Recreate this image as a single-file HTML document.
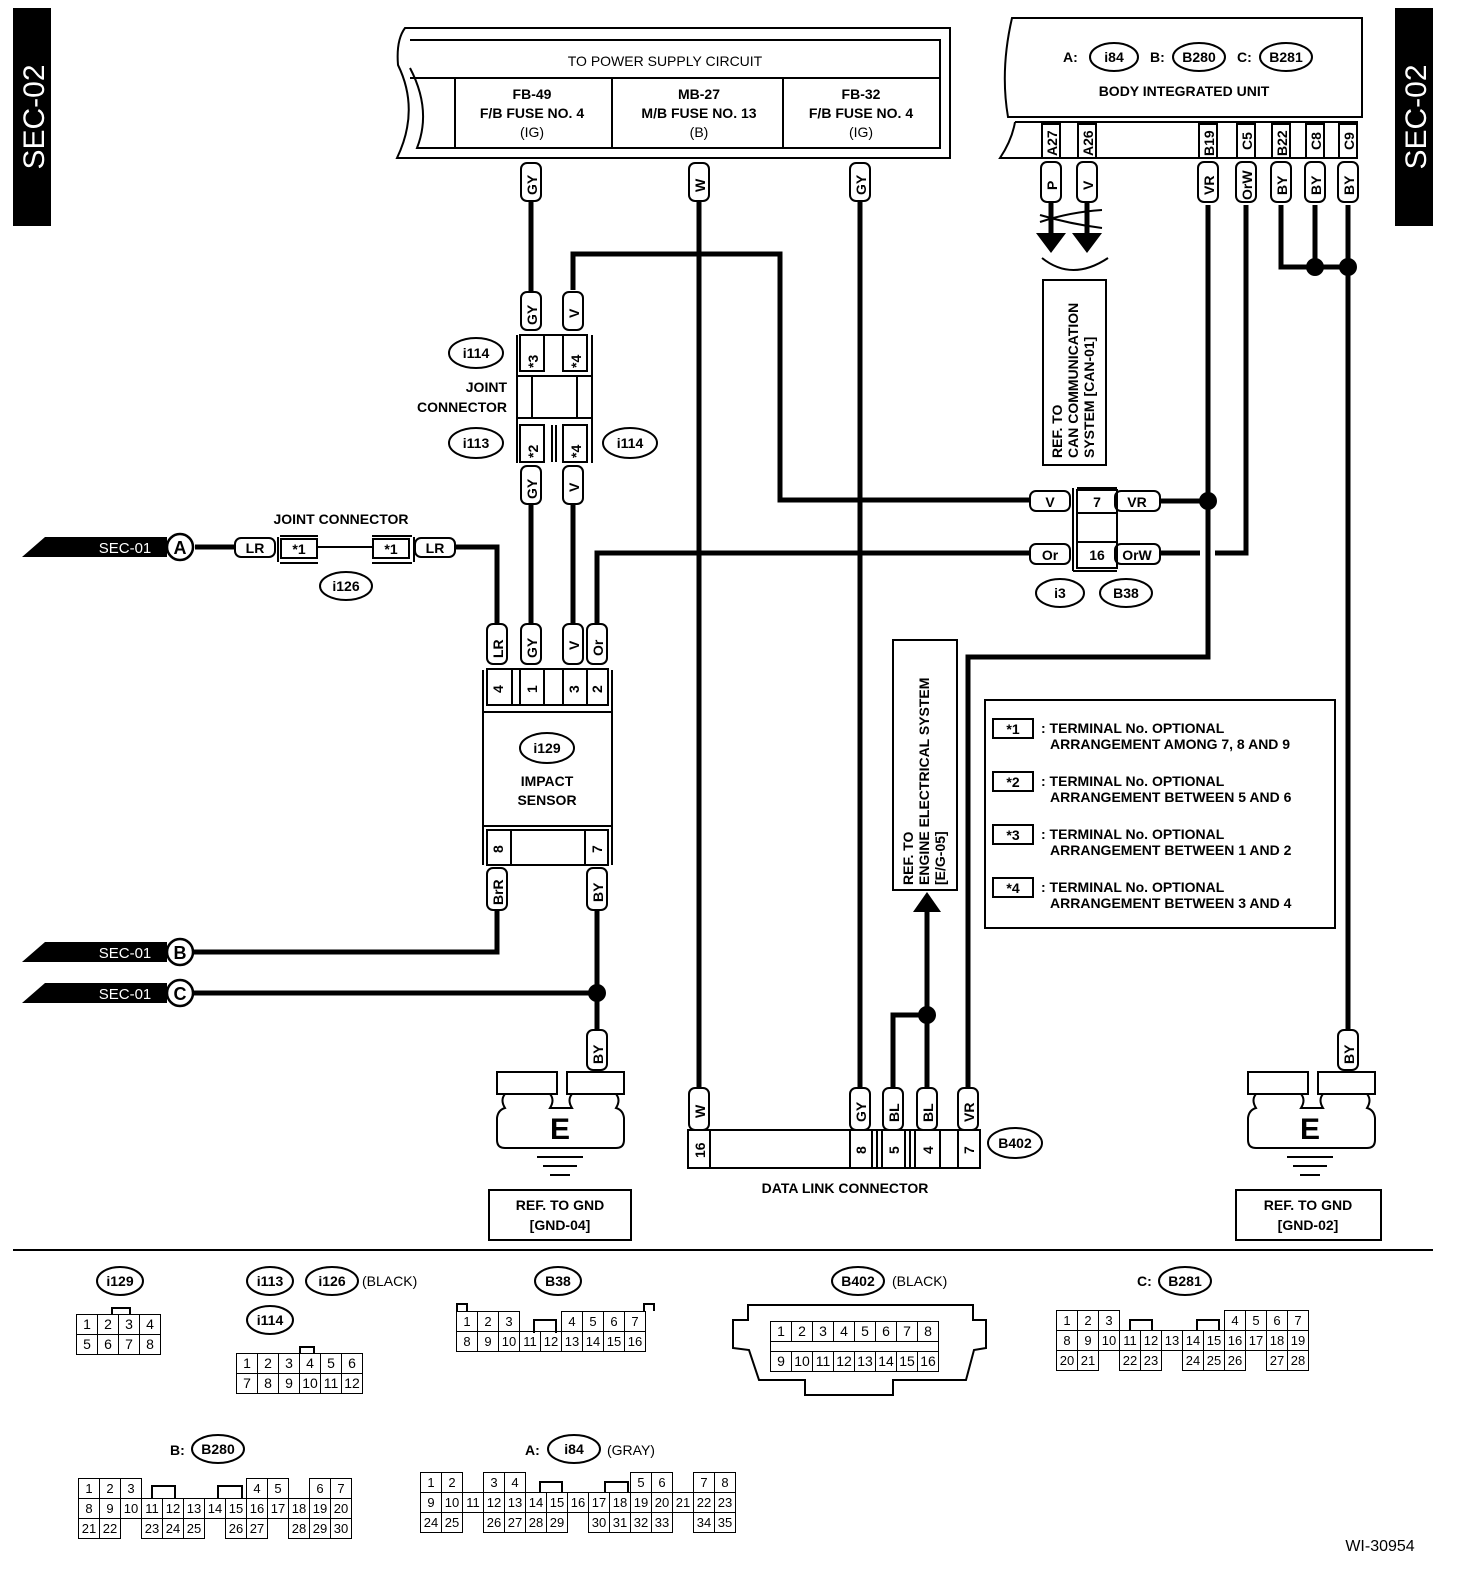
<!DOCTYPE html>
<html><head><meta charset="utf-8"><style>
body{margin:0;background:#fff;}
#w{position:relative;width:1472px;height:1576px;overflow:hidden;font-family:"Liberation Sans",sans-serif;}
svg{position:absolute;left:0;top:0;}
svg text{font-family:"Liberation Sans",sans-serif;font-weight:bold;font-size:14px;fill:#000;}
table{position:absolute;border-collapse:collapse;font-family:"Liberation Sans",sans-serif;font-size:14px;}
td{border:1.5px solid #000;width:20px;height:19px;padding:0;text-align:center;line-height:19px;}
td.e{border:none;}
</style></head><body><div id="w">
<svg width="1472" height="1576" viewBox="0 0 1472 1576">
<defs>
<style>.wire{stroke:#000;stroke-width:5;fill:none}.thin{stroke:#000;stroke-width:2;fill:none}.tag{fill:#fff;stroke:#000;stroke-width:2}</style>
</defs>
<rect x="13" y="8" width="38" height="218" fill="#000"/>
<text transform="translate(44,117) rotate(-90)" text-anchor="middle" style="fill:#fff;font-size:30px;font-weight:normal">SEC-02</text>
<rect x="1395" y="8" width="38" height="218" fill="#000"/>
<text transform="translate(1426,117) rotate(-90)" text-anchor="middle" style="fill:#fff;font-size:30px;font-weight:normal">SEC-02</text>

<path d="M405,28 L950,28 L950,158 L397,158 Q420,110 398,65 Q396,40 405,28 Z" class="thin"/>
<path d="M410,40 L940,40 L940,148 L417,148 Q432,110 410,68" class="thin"/>
<line x1="410" y1="78" x2="940" y2="78" class="thin"/>
<line x1="455" y1="78" x2="455" y2="148" class="thin"/>
<line x1="612" y1="78" x2="612" y2="148" class="thin"/>
<line x1="783" y1="78" x2="783" y2="148" class="thin"/>
<text x="665" y="66" text-anchor="middle" style="font-weight:normal">TO POWER SUPPLY CIRCUIT</text>
<g text-anchor="middle">
<text x="532" y="99">FB-49</text><text x="532" y="118">F/B FUSE NO. 4</text><text x="532" y="137" style="font-weight:normal">(IG)</text>
<text x="699" y="99">MB-27</text><text x="699" y="118">M/B FUSE NO. 13</text><text x="699" y="137" style="font-weight:normal">(B)</text>
<text x="861" y="99">FB-32</text><text x="861" y="118">F/B FUSE NO. 4</text><text x="861" y="137" style="font-weight:normal">(IG)</text>
</g>

<path d="M1012,18 L1362,18 L1362,117 L1008,117 Q1000,70 1012,18 Z" class="thin"/>
<path d="M1015,122 L1357,122 L1357,158 L1000,158 Q1012,140 1015,122" class="thin"/>
<g class="thin">
<rect x="1042" y="124" width="18" height="34"/><rect x="1078" y="124" width="18" height="34"/>
<rect x="1199" y="124" width="18" height="34"/><rect x="1237" y="124" width="18" height="34"/>
<rect x="1272" y="124" width="18" height="34"/><rect x="1306" y="124" width="18" height="34"/><rect x="1339" y="124" width="18" height="34"/>
</g>
<g style="font-size:13px">
<text transform="translate(1057,156) rotate(-90)">A27</text>
<text transform="translate(1093,156) rotate(-90)">A26</text>
<text transform="translate(1214,156) rotate(-90)">B19</text>
<text transform="translate(1252,150) rotate(-90)">C5</text>
<text transform="translate(1287,156) rotate(-90)">B22</text>
<text transform="translate(1321,150) rotate(-90)">C8</text>
<text transform="translate(1354,150) rotate(-90)">C9</text>
</g>
<text x="1063" y="62">A:</text>
<ellipse cx="1114" cy="57" rx="24" ry="14" class="thin"/><text x="1114" y="62" text-anchor="middle">i84</text>
<text x="1150" y="62">B:</text>
<ellipse cx="1199" cy="57" rx="26" ry="14" class="thin"/><text x="1199" y="62" text-anchor="middle">B280</text>
<text x="1237" y="62">C:</text>
<ellipse cx="1286" cy="57" rx="26" ry="14" class="thin"/><text x="1286" y="62" text-anchor="middle">B281</text>
<text x="1184" y="96" text-anchor="middle">BODY INTEGRATED UNIT</text>

<g class="wire">
<path d="M531,200 V292"/>
<path d="M531,502 V625"/>
<path d="M573,290 V254 H780 V500 H1032"/>
<path d="M573,502 V625"/>
<path d="M699,200 V1090"/>
<path d="M860,200 V1090"/>
<path d="M597,625 V553 H1032"/>
<path d="M1160,553 H1200"/>
<path d="M1215,553 H1246 V205"/>
<path d="M1160,501 H1208"/>
<path d="M1208,205 V657 H968 V1087"/>
<path d="M195,547 H235"/>
<path d="M455,547 H497 V625"/>
<path d="M497,910 V952 H192"/>
<path d="M597,910 V1032"/>
<path d="M192,993 H597"/>
<path d="M1348,205 V1030"/>
<path d="M1315,205 V267"/>
<path d="M1281,205 V267 H1348"/>
<path d="M927,1088 V905"/>
<path d="M927,1015 H893 V1088"/>
<path d="M1051,200 V235"/><path d="M1087,200 V235"/>
</g>
<g fill="#000">
<circle cx="1208" cy="501" r="9"/><circle cx="597" cy="993" r="9"/>
<circle cx="1315" cy="267" r="9"/><circle cx="1348" cy="267" r="9"/><circle cx="927" cy="1015" r="9"/>
<polygon points="1036,233 1066,233 1051,253"/><polygon points="1072,233 1102,233 1087,253"/>
<polygon points="913,912 941,912 927,892"/>
</g>
<path d="M1040,222 Q1070,212 1102,210 M1040,215 Q1070,224 1102,228" class="thin"/>
<path d="M1042,258 Q1072,282 1108,258" class="thin"/>

<g class="tag">
<rect x="521" y="163" width="20" height="38" rx="6"/><rect x="689" y="163" width="20" height="38" rx="6"/><rect x="850" y="163" width="20" height="38" rx="6"/>
<rect x="1041" y="162" width="20" height="40" rx="6"/><rect x="1077" y="162" width="20" height="40" rx="6"/>
<rect x="1198" y="162" width="20" height="40" rx="6"/><rect x="1236" y="162" width="20" height="40" rx="6"/>
<rect x="1271" y="162" width="20" height="40" rx="6"/><rect x="1305" y="162" width="20" height="40" rx="6"/><rect x="1338" y="162" width="20" height="40" rx="6"/>
<rect x="521" y="292" width="20" height="38" rx="6"/><rect x="563" y="292" width="20" height="38" rx="6"/>
<rect x="521" y="466" width="20" height="38" rx="6"/><rect x="563" y="466" width="20" height="38" rx="6"/>
<rect x="487" y="624" width="20" height="40" rx="6"/><rect x="521" y="624" width="20" height="40" rx="6"/><rect x="563" y="624" width="20" height="40" rx="6"/><rect x="587" y="624" width="20" height="40" rx="6"/>
<rect x="487" y="868" width="20" height="42" rx="6"/><rect x="587" y="868" width="20" height="42" rx="6"/>
<rect x="587" y="1030" width="20" height="40" rx="6"/><rect x="1338" y="1030" width="20" height="40" rx="6"/>
<rect x="689" y="1088" width="20" height="42" rx="6"/><rect x="850" y="1088" width="20" height="42" rx="6"/>
<rect x="883" y="1088" width="20" height="42" rx="6"/><rect x="917" y="1088" width="20" height="42" rx="6"/><rect x="958" y="1088" width="20" height="42" rx="6"/>
</g>
<g style="font-size:13px">
<text transform="translate(537,195) rotate(-90)">GY</text>
<text transform="translate(705,192) rotate(-90)">W</text>
<text transform="translate(866,195) rotate(-90)">GY</text>
<text transform="translate(1057,190) rotate(-90)">P</text>
<text transform="translate(1093,190) rotate(-90)">V</text>
<text transform="translate(1214,195) rotate(-90)">VR</text>
<text transform="translate(1252,200) rotate(-90)">OrW</text>
<text transform="translate(1287,195) rotate(-90)">BY</text>
<text transform="translate(1321,195) rotate(-90)">BY</text>
<text transform="translate(1354,195) rotate(-90)">BY</text>
<text transform="translate(537,325) rotate(-90)">GY</text>
<text transform="translate(579,318) rotate(-90)">V</text>
<text transform="translate(537,499) rotate(-90)">GY</text>
<text transform="translate(579,492) rotate(-90)">V</text>
<text transform="translate(503,658) rotate(-90)">LR</text>
<text transform="translate(537,658) rotate(-90)">GY</text>
<text transform="translate(579,650) rotate(-90)">V</text>
<text transform="translate(603,656) rotate(-90)">Or</text>
<text transform="translate(503,905) rotate(-90)">BrR</text>
<text transform="translate(603,902) rotate(-90)">BY</text>
<text transform="translate(603,1064) rotate(-90)">BY</text>
<text transform="translate(1354,1064) rotate(-90)">BY</text>
<text transform="translate(705,1118) rotate(-90)">W</text>
<text transform="translate(866,1122) rotate(-90)">GY</text>
<text transform="translate(899,1122) rotate(-90)">BL</text>
<text transform="translate(933,1122) rotate(-90)">BL</text>
<text transform="translate(974,1122) rotate(-90)">VR</text>
</g>

<g class="tag">
<rect x="235" y="538" width="40" height="19" rx="6"/><rect x="415" y="538" width="40" height="19" rx="6"/>
<rect x="1030" y="491" width="40" height="20" rx="6"/><rect x="1115" y="491" width="45" height="20" rx="6"/>
<rect x="1030" y="544" width="40" height="20" rx="6"/><rect x="1115" y="544" width="45" height="20" rx="6"/>
</g>
<g text-anchor="middle">
<text x="255" y="553">LR</text><text x="435" y="553">LR</text>
<text x="1050" y="507">V</text><text x="1137" y="507">VR</text>
<text x="1050" y="560">Or</text><text x="1137" y="560">OrW</text>
</g>

<path d="M278,537 V562 M414,537 V562 M280,536 H318 M372,536 H412 M280,563 H318 M372,563 H412" class="thin"/>
<rect x="281" y="539" width="36" height="19" class="thin" fill="#fff"/>
<rect x="373" y="539" width="36" height="19" class="thin" fill="#fff"/>
<line x1="317" y1="547" x2="373" y2="547" class="thin"/>
<text x="299" y="554" text-anchor="middle">*1</text><text x="391" y="554" text-anchor="middle">*1</text>
<text x="341" y="524" text-anchor="middle">JOINT CONNECTOR</text>
<ellipse cx="346" cy="586" rx="26" ry="14" class="thin"/><text x="346" y="591" text-anchor="middle">i126</text>

<g>
<polygon points="22,557 45,537 167,537 167,557" fill="#000"/>
<text x="125" y="553" text-anchor="middle" style="fill:#fff;font-weight:normal;font-size:15px">SEC-01</text>
<circle cx="180" cy="547" r="13" fill="#fff" stroke="#000" stroke-width="2.5"/><text x="180" y="554" text-anchor="middle" style="font-size:18px">A</text>
<polygon points="22,962 45,942 167,942 167,962" fill="#000"/>
<text x="125" y="958" text-anchor="middle" style="fill:#fff;font-weight:normal;font-size:15px">SEC-01</text>
<circle cx="180" cy="952" r="13" fill="#fff" stroke="#000" stroke-width="2.5"/><text x="180" y="959" text-anchor="middle" style="font-size:18px">B</text>
<polygon points="22,1003 45,983 167,983 167,1003" fill="#000"/>
<text x="125" y="999" text-anchor="middle" style="fill:#fff;font-weight:normal;font-size:15px">SEC-01</text>
<circle cx="180" cy="993" r="13" fill="#fff" stroke="#000" stroke-width="2.5"/><text x="180" y="1000" text-anchor="middle" style="font-size:18px">C</text>
</g>

<g class="thin">
<path d="M517,335 V463 M592,335 V463"/>
<rect x="520" y="335" width="24" height="36"/><rect x="563" y="335" width="24" height="36"/>
<path d="M520,335 H587"/>
<path d="M517,376 H592 M517,418 H592 M532,376 V418 M577,376 V418"/>
<rect x="520" y="425" width="24" height="37"/><rect x="563" y="425" width="24" height="37"/>
<path d="M552,425 V462 M556,425 V462"/>
</g>
<g style="font-size:14px">
<text transform="translate(538,368) rotate(-90)">*3</text><text transform="translate(581,368) rotate(-90)">*4</text>
<text transform="translate(538,458) rotate(-90)">*2</text><text transform="translate(581,458) rotate(-90)">*4</text>
</g>
<ellipse cx="476" cy="353" rx="27" ry="15" class="thin"/><text x="476" y="358" text-anchor="middle">i114</text>
<text x="507" y="392" text-anchor="end">JOINT</text><text x="507" y="412" text-anchor="end">CONNECTOR</text>
<ellipse cx="476" cy="443" rx="27" ry="15" class="thin"/><text x="476" y="448" text-anchor="middle">i113</text>
<ellipse cx="630" cy="443" rx="27" ry="15" class="thin"/><text x="630" y="448" text-anchor="middle">i114</text>

<g class="thin">
<path d="M483,670 V865 M612,670 V865"/>
<rect x="487" y="669" width="121" height="36"/>
<path d="M512,669 V705 M520,669 V705 M544,669 V705 M563,669 V705 M587,669 V705"/>
<path d="M483,712 H612 M483,826 H612"/>
<rect x="487" y="830" width="121" height="35"/>
<path d="M511,830 V865 M585,830 V865"/>
</g>
<g style="font-size:13px">
<text transform="translate(503,693) rotate(-90)">4</text><text transform="translate(537,693) rotate(-90)">1</text>
<text transform="translate(579,693) rotate(-90)">3</text><text transform="translate(602,693) rotate(-90)">2</text>
<text transform="translate(503,853) rotate(-90)">8</text><text transform="translate(602,853) rotate(-90)">7</text>
</g>
<ellipse cx="547" cy="748" rx="27" ry="15" class="thin"/><text x="547" y="753" text-anchor="middle">i129</text>
<text x="547" y="786" text-anchor="middle">IMPACT</text><text x="547" y="805" text-anchor="middle">SENSOR</text>

<g class="thin">
<path d="M1073,488 V571 M1077,488 H1117 M1073,571 H1117"/>
<rect x="1077" y="490" width="40" height="78"/>
<path d="M1077,513 H1117 M1077,542 H1117"/>
</g>
<text x="1097" y="507" text-anchor="middle">7</text><text x="1097" y="560" text-anchor="middle">16</text>
<ellipse cx="1060" cy="593" rx="24" ry="14" class="thin"/><text x="1060" y="598" text-anchor="middle">i3</text>
<ellipse cx="1126" cy="593" rx="26" ry="14" class="thin"/><text x="1126" y="598" text-anchor="middle">B38</text>

<rect x="1043" y="280" width="63" height="185" class="thin"/>
<g style="font-size:13px">
<text transform="translate(1062,458) rotate(-90)">REF. TO</text>
<text transform="translate(1078,458) rotate(-90)">CAN COMMUNICATION</text>
<text transform="translate(1094,458) rotate(-90)">SYSTEM [CAN-01]</text>
</g>

<rect x="893" y="640" width="64" height="250" class="thin"/>
<g style="font-size:13px">
<text transform="translate(913,885) rotate(-90)">REF. TO</text>
<text transform="translate(929,885) rotate(-90)">ENGINE ELECTRICAL SYSTEM</text>
<text transform="translate(945,885) rotate(-90)">[E/G-05]</text>
</g>

<g class="thin">
<rect x="688" y="1130" width="292" height="38"/>
<path d="M710,1130 V1168 M850,1130 V1168 M872,1130 V1168 M877,1130 V1168 M882,1130 V1168 M905,1130 V1168 M910,1130 V1168 M915,1130 V1168 M940,1130 V1168 M958,1130 V1168"/>
</g>
<g style="font-size:13px">
<text transform="translate(705,1158) rotate(-90)">16</text><text transform="translate(866,1154) rotate(-90)">8</text>
<text transform="translate(899,1154) rotate(-90)">5</text><text transform="translate(933,1154) rotate(-90)">4</text>
<text transform="translate(974,1154) rotate(-90)">7</text>
</g>
<ellipse cx="1015" cy="1143" rx="27" ry="15" class="thin"/><text x="1015" y="1148" text-anchor="middle">B402</text>
<text x="845" y="1193" text-anchor="middle">DATA LINK CONNECTOR</text>

<g class="thin" fill="#fff">
<rect x="497" y="1072" width="60" height="22"/><rect x="567" y="1072" width="57" height="22"/>
<path d="M505,1094 Q500,1100 505,1108 Q498,1110 497,1118 V1140 Q497,1148 505,1148 H616 Q624,1148 624,1140 V1118 Q623,1110 616,1108 Q621,1100 616,1094 M550,1094 Q555,1100 550,1108 H572 Q567,1100 572,1094"/>
</g>
<text x="560" y="1139" text-anchor="middle" style="font-size:30px">E</text>
<path d="M537,1157 H583 M543,1166 H577 M550,1175 H570" class="thin" stroke-width="3"/>
<rect x="489" y="1190" width="142" height="50" class="thin"/>
<text x="560" y="1210" text-anchor="middle">REF. TO GND</text><text x="560" y="1230" text-anchor="middle">[GND-04]</text>

<g class="thin" fill="#fff">
<rect x="1248" y="1072" width="60" height="22"/><rect x="1318" y="1072" width="57" height="22"/>
<path d="M1256,1094 Q1251,1100 1256,1108 Q1249,1110 1248,1118 V1140 Q1248,1148 1256,1148 H1367 Q1375,1148 1375,1140 V1118 Q1374,1110 1367,1108 Q1372,1100 1367,1094 M1301,1094 Q1306,1100 1301,1108 H1323 Q1318,1100 1323,1094"/>
</g>
<text x="1310" y="1139" text-anchor="middle" style="font-size:30px">E</text>
<path d="M1287,1157 H1333 M1293,1166 H1327 M1300,1175 H1320" class="thin" stroke-width="3"/>
<rect x="1236" y="1190" width="145" height="50" class="thin"/>
<text x="1308" y="1210" text-anchor="middle">REF. TO GND</text><text x="1308" y="1230" text-anchor="middle">[GND-02]</text>

<rect x="985" y="700" width="350" height="228" class="thin"/>
<g>
<rect x="993" y="719" width="40" height="19" class="thin"/><text x="1013" y="734" text-anchor="middle">*1</text>
<text x="1041" y="733">: TERMINAL No. OPTIONAL</text><text x="1050" y="749">ARRANGEMENT AMONG 7, 8 AND 9</text>
<rect x="993" y="772" width="40" height="19" class="thin"/><text x="1013" y="787" text-anchor="middle">*2</text>
<text x="1041" y="786">: TERMINAL No. OPTIONAL</text><text x="1050" y="802">ARRANGEMENT BETWEEN 5 AND 6</text>
<rect x="993" y="825" width="40" height="19" class="thin"/><text x="1013" y="840" text-anchor="middle">*3</text>
<text x="1041" y="839">: TERMINAL No. OPTIONAL</text><text x="1050" y="855">ARRANGEMENT BETWEEN 1 AND 2</text>
<rect x="993" y="878" width="40" height="19" class="thin"/><text x="1013" y="893" text-anchor="middle">*4</text>
<text x="1041" y="892">: TERMINAL No. OPTIONAL</text><text x="1050" y="908">ARRANGEMENT BETWEEN 3 AND 4</text>
</g>

<line x1="13" y1="1250" x2="1433" y2="1250" stroke="#000" stroke-width="2"/>

<ellipse cx="120" cy="1281" rx="23" ry="14" class="thin"/><text x="120" y="1286" text-anchor="middle">i129</text>
<ellipse cx="270" cy="1281" rx="23" ry="14" class="thin"/><text x="270" y="1286" text-anchor="middle">i113</text>
<ellipse cx="332" cy="1281" rx="26" ry="14" class="thin"/><text x="332" y="1286" text-anchor="middle">i126</text>
<text x="362" y="1286" style="font-weight:normal">(BLACK)</text>
<ellipse cx="270" cy="1320" rx="23" ry="14" class="thin"/><text x="270" y="1325" text-anchor="middle">i114</text>
<ellipse cx="558" cy="1281" rx="23" ry="14" class="thin"/><text x="558" y="1286" text-anchor="middle">B38</text>
<ellipse cx="858" cy="1281" rx="26" ry="14" class="thin"/><text x="858" y="1286" text-anchor="middle">B402</text>
<text x="892" y="1286" style="font-weight:normal">(BLACK)</text>
<text x="1137" y="1286">C:</text>
<ellipse cx="1185" cy="1281" rx="26" ry="14" class="thin"/><text x="1185" y="1286" text-anchor="middle">B281</text>
<text x="170" y="1455">B:</text>
<ellipse cx="218" cy="1449" rx="26" ry="14" class="thin"/><text x="218" y="1454" text-anchor="middle">B280</text>
<text x="525" y="1455">A:</text>
<ellipse cx="574" cy="1449" rx="26" ry="14" class="thin"/><text x="574" y="1454" text-anchor="middle">i84</text>
<text x="607" y="1455" style="font-weight:normal">(GRAY)</text>
<text x="1380" y="1551" text-anchor="middle" style="font-weight:normal;font-size:16px">WI-30954</text>

<g class="thin">
<path d="M112,1314 V1308 H130 V1314"/>
<path d="M300,1353 V1347 H314 V1353"/>
<path d="M457,1311 V1304 H467 V1311 M644,1311 V1304 H654 V1311 M534,1333 V1320 H556 V1333"/>
<path d="M748,1305 H973 V1320 H986 V1348 L974,1350 L966,1380 H893 V1395 H805 V1380 H759 L749,1350 L733,1348 V1320 H748 Z"/>
<path d="M1130,1330 V1320 H1152 V1330 M1197,1330 V1320 H1219 V1330"/>
<path d="M152,1498 V1486 H175 V1498 M218,1498 V1486 H242 V1498"/>
<path d="M540,1493 V1482 H562 V1493 M605,1493 V1482 H628 V1493"/>
</g>
</svg>

<table style="left:76px;top:1314px"><tr><td>1</td><td>2</td><td>3</td><td>4</td></tr><tr><td>5</td><td>6</td><td>7</td><td>8</td></tr></table>
<table style="left:236px;top:1353px"><tr><td>1</td><td>2</td><td>3</td><td>4</td><td>5</td><td>6</td></tr><tr><td>7</td><td>8</td><td>9</td><td>10</td><td>11</td><td>12</td></tr></table>
<table style="left:456px;top:1311px;font-size:13px"><tr><td>1</td><td>2</td><td>3</td><td class="e"></td><td class="e"></td><td>4</td><td>5</td><td>6</td><td>7</td></tr><tr><td>8</td><td>9</td><td>10</td><td>11</td><td>12</td><td>13</td><td>14</td><td>15</td><td>16</td></tr></table>
<table style="left:770px;top:1321px"><tr><td>1</td><td>2</td><td>3</td><td>4</td><td>5</td><td>6</td><td>7</td><td>8</td></tr><tr><td colspan="8" style="height:9px"></td></tr><tr><td>9</td><td>10</td><td>11</td><td>12</td><td>13</td><td>14</td><td>15</td><td>16</td></tr></table>
<table style="left:1056px;top:1310px;font-size:13px"><tr><td>1</td><td>2</td><td>3</td><td class="e"></td><td class="e"></td><td class="e"></td><td class="e"></td><td class="e"></td><td>4</td><td>5</td><td>6</td><td>7</td></tr><tr><td>8</td><td>9</td><td>10</td><td>11</td><td>12</td><td>13</td><td>14</td><td>15</td><td>16</td><td>17</td><td>18</td><td>19</td></tr><tr><td>20</td><td>21</td><td class="e"></td><td>22</td><td>23</td><td class="e"></td><td>24</td><td>25</td><td>26</td><td class="e"></td><td>27</td><td>28</td></tr></table>
<table style="left:78px;top:1478px;font-size:13px"><tr><td>1</td><td>2</td><td>3</td><td class="e"></td><td class="e"></td><td class="e"></td><td class="e"></td><td class="e"></td><td>4</td><td>5</td><td class="e"></td><td>6</td><td>7</td></tr><tr><td>8</td><td>9</td><td>10</td><td>11</td><td>12</td><td>13</td><td>14</td><td>15</td><td>16</td><td>17</td><td>18</td><td>19</td><td>20</td></tr><tr><td>21</td><td>22</td><td class="e"></td><td>23</td><td>24</td><td>25</td><td class="e"></td><td>26</td><td>27</td><td class="e"></td><td>28</td><td>29</td><td>30</td></tr></table>
<table style="left:420px;top:1472px;font-size:13px"><tr><td>1</td><td>2</td><td class="e"></td><td>3</td><td>4</td><td class="e"></td><td class="e"></td><td class="e"></td><td class="e"></td><td class="e"></td><td>5</td><td>6</td><td class="e"></td><td>7</td><td>8</td></tr><tr><td>9</td><td>10</td><td>11</td><td>12</td><td>13</td><td>14</td><td>15</td><td>16</td><td>17</td><td>18</td><td>19</td><td>20</td><td>21</td><td>22</td><td>23</td></tr><tr><td>24</td><td>25</td><td class="e"></td><td>26</td><td>27</td><td>28</td><td>29</td><td class="e"></td><td>30</td><td>31</td><td>32</td><td>33</td><td class="e"></td><td>34</td><td>35</td></tr></table>
</div></body></html>
